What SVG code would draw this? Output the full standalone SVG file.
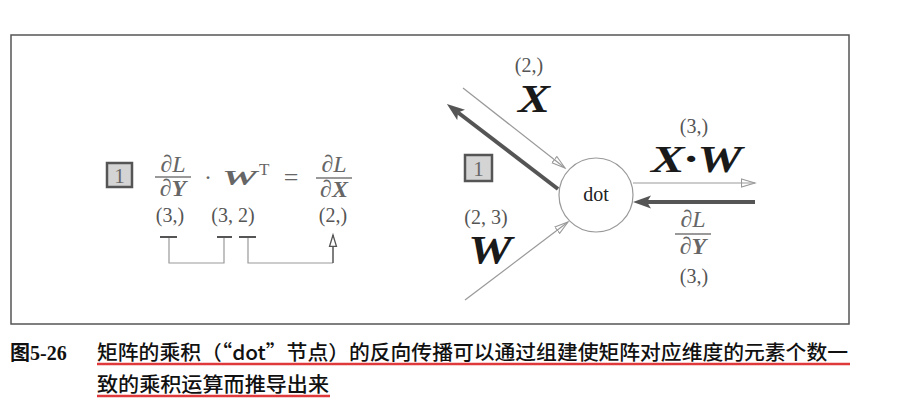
<svg xmlns="http://www.w3.org/2000/svg" width="905" height="407" viewBox="0 0 905 407">
<style>
.m{font-family:"Liberation Serif","DejaVu Serif",serif;}
.g{fill:#666;}
.k{fill:#1a1a1a;}
.p{font-size:20px;fill:#555;text-anchor:middle;}
.bi{font-weight:bold;font-style:italic;}
.it{font-style:italic;}
.thin{stroke:#999;stroke-width:1.2;fill:none;}
.thick{stroke:#555;stroke-width:4;fill:none;}
.bar{stroke:#777;stroke-width:1.6;}
.box{fill:#d4d4d4;stroke:#555;stroke-width:2.5;}
.cap{font-family:"Noto Sans CJK SC","Noto Sans CJK JP",sans-serif;font-size:20px;font-weight:500;fill:#111;}
</style>
<defs>
<marker id="open" markerUnits="userSpaceOnUse" markerWidth="16" markerHeight="12" refX="14" refY="5" orient="auto">
<path d="M0.5,1 L14,5 L0.5,9 Z" fill="none" stroke="#999" stroke-width="1.1"/>
</marker>
<marker id="openDark" markerUnits="userSpaceOnUse" markerWidth="16" markerHeight="12" refX="12" refY="5" orient="auto">
<path d="M0.5,1.5 L12,5 L0.5,8.5 Z" fill="#fff" stroke="#555" stroke-width="1.3"/>
</marker>
<marker id="solid" markerUnits="userSpaceOnUse" markerWidth="20" markerHeight="14" refX="4" refY="6.5" orient="auto">
<path d="M0,0 L18,6.5 L0,13 L4,6.5 Z" fill="#555"/>
</marker>
</defs>
<rect x="11" y="35" width="838" height="289" fill="none" stroke="#555" stroke-width="1.5"/>

<g id="connectors">
<line class="thin" x1="463" y1="88" x2="565" y2="168" marker-end="url(#open)"/>
<line class="thin" x1="465" y1="300" x2="568" y2="222" marker-end="url(#open)"/>
<line class="thin" x1="633" y1="183" x2="755" y2="183" marker-end="url(#open)"/>
<line class="thick" x1="558" y1="189" x2="458" y2="112.5" marker-end="url(#solid)"/>
<line class="thick" x1="755" y1="202" x2="647" y2="202" marker-end="url(#solid)"/>
<g id="brackets">
<polyline class="thin" points="169,237 169,263 224,263 224,237"/>
<polyline class="thin" points="248,237 248,263 333,263"/>
<line x1="333" y1="263" x2="333" y2="235" stroke="#555" stroke-width="1.5" marker-end="url(#openDark)"/>
<line x1="160" y1="237" x2="177" y2="237" stroke="#555" stroke-width="2"/>
<line x1="217" y1="237" x2="232" y2="237" stroke="#555" stroke-width="2"/>
<line x1="239" y1="237" x2="256" y2="237" stroke="#555" stroke-width="2"/>
</g>
</g>

<g id="node-dot">
<circle cx="596" cy="195" r="37" fill="#fff" stroke="#999" stroke-width="1.2"/>
<text class="m" x="596" y="201" font-size="20" text-anchor="middle" fill="#222">dot</text>
</g>

<g id="label-x">
<text class="m p" x="529" y="72" fill="#333">(2,)</text>
<text class="m bi k" x="518" y="112" font-size="39" textLength="32" lengthAdjust="spacingAndGlyphs">X</text>
</g>
<g id="label-w">
<text class="m p" x="486" y="224" fill="#333">(2, 3)</text>
<text class="m bi k" x="468" y="263" font-size="39" textLength="44" lengthAdjust="spacingAndGlyphs">W</text>
</g>
<g id="label-xw">
<text class="m p" x="694" y="133" fill="#333">(3,)</text>
<text class="m bi k" x="651" y="172" font-size="38" textLength="91" lengthAdjust="spacingAndGlyphs">X·W</text>
</g>
<g id="label-dldy">
<text class="m g" x="693" y="227" font-size="24" text-anchor="middle">∂<tspan class="it">L</tspan></text>
<line class="bar" x1="675" y1="234" x2="711" y2="234"/>
<text class="m g" x="693" y="254" font-size="24" text-anchor="middle">∂<tspan class="bi">Y</tspan></text>
<text class="m p" x="694" y="283">(3,)</text>
</g>

<g id="box-right">
<rect class="box" x="465" y="155" width="27" height="26"/>
<text class="m" x="478.5" y="176" font-size="21" text-anchor="middle" fill="#666">1</text>
</g>

<g id="equation">
<rect class="box" x="107" y="163" width="25" height="24"/>
<text class="m" x="119.5" y="182.5" font-size="21" text-anchor="middle" fill="#666">1</text>
<text class="m g" x="173" y="172" font-size="24" text-anchor="middle">∂<tspan class="it">L</tspan></text>
<line class="bar" x1="155" y1="177" x2="191" y2="177"/>
<text class="m g" x="173" y="196" font-size="24" text-anchor="middle">∂<tspan class="bi">Y</tspan></text>
<text class="m g" x="208" y="185" font-size="24" text-anchor="middle">·</text>
<text class="m g bi" x="222" y="185" font-size="22" textLength="35" lengthAdjust="spacingAndGlyphs">W</text>
<text class="m g" x="259" y="175" font-size="17">T</text>
<text class="m g" x="291" y="186" font-size="26" text-anchor="middle">=</text>
<text class="m g" x="334" y="172" font-size="24" text-anchor="middle">∂<tspan class="it">L</tspan></text>
<line class="bar" x1="316" y1="178" x2="352" y2="178"/>
<text class="m g" x="334" y="197" font-size="24" text-anchor="middle">∂<tspan class="bi">X</tspan></text>
<text class="m p" x="170" y="222">(3,)</text>
<text class="m p" x="233" y="222">(3, 2)</text>
<text class="m p" x="333" y="222">(2,)</text>
</g>

<g id="caption">
<text x="10" y="360" font-family="'Liberation Serif','Noto Sans CJK SC',serif" font-size="20" font-weight="bold" fill="#111"><tspan font-family="'Noto Sans CJK SC',sans-serif">图</tspan>5-26</text>
<text class="cap" x="97" y="360" textLength="751" lengthAdjust="spacingAndGlyphs">矩阵的乘积（“dot”节点）的反向传播可以通过组建使矩阵对应维度的元素个数一</text>
<text class="cap" x="97" y="392" textLength="232" lengthAdjust="spacingAndGlyphs">致的乘积运算而推导出来</text>
<line x1="97" y1="364" x2="850" y2="364" stroke="#e0393b" stroke-width="2.5"/>
<line x1="97" y1="396" x2="330" y2="396" stroke="#e0393b" stroke-width="2.5"/>
</g>
</svg>
